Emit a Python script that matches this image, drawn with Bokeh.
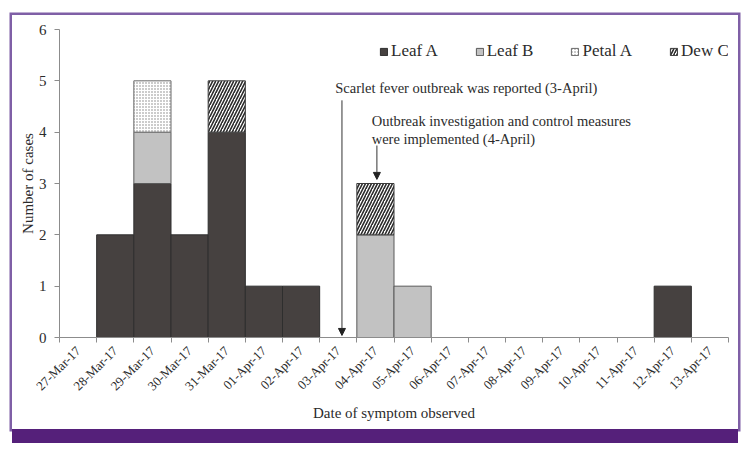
import numpy as np
from bokeh.plotting import figure
from bokeh.models import (ColumnDataSource, Range1d, FixedTicker, Legend, LegendItem,
                          Label, Arrow, NormalHead)
from bokeh.embed import file_html
from bokeh.resources import INLINE

# ---- data ----
dates = ["27-Mar-17", "28-Mar-17", "29-Mar-17", "30-Mar-17", "31-Mar-17", "01-Apr-17",
         "02-Apr-17", "03-Apr-17", "04-Apr-17", "05-Apr-17", "06-Apr-17", "07-Apr-17",
         "08-Apr-17", "09-Apr-17", "10-Apr-17", "11-Apr-17", "12-Apr-17", "13-Apr-17"]
leaf_a  = [0, 2, 3, 2, 4, 1, 1, 0, 0, 0, 0, 0, 0, 0, 0, 0, 1, 0]
leaf_b  = [0, 0, 1, 0, 0, 0, 0, 0, 2, 1, 0, 0, 0, 0, 0, 0, 0, 0]
petal_a = [0, 0, 1, 0, 0, 0, 0, 0, 0, 0, 0, 0, 0, 0, 0, 0, 0, 0]
dew_c   = [0, 0, 0, 0, 1, 0, 0, 0, 1, 0, 0, 0, 0, 0, 0, 0, 0, 0]
series_names = ["Leaf A", "Leaf B", "Petal A", "Dew C"]
y_ticks = [0, 1, 2, 3, 4, 5, 6]
note_reported = "Scarlet fever outbreak was reported (3-April)"
note_measures = ["Outbreak investigation and control measures", "were implemented (4-April)"]

FONT = "Liberation Serif"
TXT = "#2b2b2b"
AX = "#8c8c8c"

n = len(dates)
centers = [i + 0.5 for i in range(n)]

p = figure(width=726, height=414, output_backend="svg", toolbar_location=None,
           x_range=Range1d(0, n), y_range=Range1d(0, 6),
           min_border_left=47, min_border_right=10, min_border_top=14, min_border_bottom=92)
p.outline_line_color = None
p.grid.visible = False
p.background_fill_color = "white"
p.border_fill_color = "white"
p.margin = (15, 0, 0, 12)
p.styles = {
    "box-shadow": "0 14px 0 0 #55207a, 0 0 0 2.5px #7f5fa6",
}

styles = [
    dict(fill_color="#464140", line_color="#2e2e2e", line_width=1),
    dict(fill_color="#c2c2c2", line_color="#5a5a5a", line_width=1),
    dict(fill_color="white", line_color="#6a6a6a", line_width=1,
         hatch_pattern="dot", hatch_scale=3, hatch_weight=1, hatch_color="#808080"),
    dict(fill_color="white", line_color="#3a3a3a", line_width=1,
         hatch_pattern="right_diagonal_line", hatch_scale=6, hatch_weight=1.6, hatch_color="#2a2a2a"),
]

bottom = np.zeros(n)
items = []
for name, vals, st in zip(series_names, [leaf_a, leaf_b, petal_a, dew_c], styles):
    v = np.array(vals, dtype=float)
    m = v > 0
    src = ColumnDataSource(dict(x=np.array(centers)[m], bottom=bottom[m], top=(bottom + v)[m]))
    r = p.vbar(x="x", bottom="bottom", top="top", width=1, source=src, **st)
    items.append(LegendItem(label=name, renderers=[r]))
    bottom = bottom + v

# ---- axes ----
xa = p.xaxis[0]
xa.ticker = FixedTicker(ticks=centers, minor_ticks=list(range(n + 1)))
xa.major_label_overrides = {c: d for c, d in zip(centers, dates)}
xa.major_label_orientation = np.pi / 4
xa.major_tick_in = 0
xa.major_tick_out = 0
xa.minor_tick_in = 0
xa.minor_tick_out = 5
xa.minor_tick_line_color = AX
xa.axis_line_color = AX
xa.major_label_text_font = FONT
xa.major_label_text_font_size = "13px"
xa.major_label_text_color = TXT
xa.major_label_standoff = 6
xa.axis_label = "Date of symptom observed"
xa.axis_label_text_font = FONT
xa.axis_label_text_font_size = "15px"
xa.axis_label_text_font_style = "normal"
xa.axis_label_text_color = TXT
xa.axis_label_standoff = 3

ya = p.yaxis[0]
ya.ticker = FixedTicker(ticks=y_ticks, minor_ticks=[])
ya.major_tick_in = 0
ya.major_tick_out = 5
ya.major_tick_line_color = AX
ya.axis_line_color = AX
ya.major_label_text_font = FONT
ya.major_label_text_font_size = "15px"
ya.major_label_text_color = TXT
ya.major_label_standoff = 8
ya.axis_label = "Number of cases"
ya.axis_label_text_font = FONT
ya.axis_label_text_font_size = "15px"
ya.axis_label_text_font_style = "normal"
ya.axis_label_text_color = TXT
ya.axis_label_standoff = 0

# ---- legend ----
leg = Legend(items=items, orientation="horizontal", location=(320, 276),
             glyph_width=9, glyph_height=9, label_standoff=3, spacing=37,
             margin=0, padding=2, border_line_color=None, background_fill_alpha=0,
             label_text_font=FONT, label_text_font_size="17px", label_text_color=TXT)
p.add_layout(leg)

# ---- annotations ----
i3 = dates.index("03-Apr-17")
i4 = dates.index("04-Apr-17")
p.add_layout(Label(x=i3 + 0.42, y=4.86, text=note_reported, text_font=FONT,
                   text_font_size="14.5px", text_baseline="middle", text_color=TXT))
p.add_layout(Label(x=i4 + 0.40, y=4.22, text=note_measures[0], text_font=FONT,
                   text_font_size="14.5px", text_baseline="middle", text_color=TXT))
p.add_layout(Label(x=i4 + 0.40, y=3.87, text=note_measures[1], text_font=FONT,
                   text_font_size="14.5px", text_baseline="middle", text_color=TXT))
p.add_layout(Arrow(x_start=i3 + 0.6, y_start=4.62, x_end=i3 + 0.6, y_end=0.04,
                   line_color="#333", line_width=1,
                   end=NormalHead(size=7, fill_color="#222", line_color="#222")))
p.add_layout(Arrow(x_start=i4 + 0.54, y_start=3.74, x_end=i4 + 0.54, y_end=3.08,
                   line_color="#333", line_width=1,
                   end=NormalHead(size=7, fill_color="#222", line_color="#222")))

open("out.html", "w").write(file_html(p, INLINE))
